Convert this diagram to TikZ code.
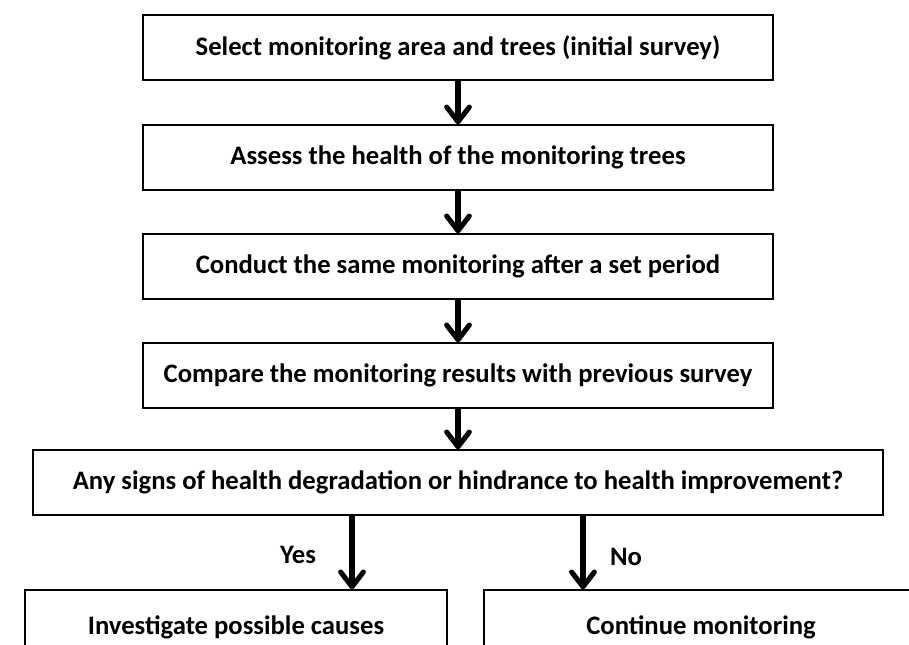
\documentclass[tikz,border=0pt]{standalone}
\usepackage{fontspec}
\setmainfont{Carlito}
\usetikzlibrary{arrows.meta}

\begin{document}
\begin{tikzpicture}[x=0.75pt,y=0.75pt,yscale=-1,xscale=1,
  stepbox/.style={draw,line width=1.1pt,inner sep=0pt,align=center,
    font=\fontsize{20}{24}\selectfont\bfseries,minimum height=48.75pt},
  lbl/.style={inner sep=0.75pt,font=\fontsize{20}{24}\selectfont\bfseries},
  flow/.style={line width=3.8pt,-{Straight Barb[length=11pt,width=17pt,round]}}]
\useasboundingbox (0,0) rectangle (909,645);
\clip (0,0) rectangle (909,645);

% Main column
\node [stepbox,minimum width=472.5pt] (select) at (458,47.5) {Select monitoring area and trees (initial survey)};
\node [stepbox,minimum width=472.5pt] (assess) at (458,157.5) {Assess the health of the monitoring trees};
\node [stepbox,minimum width=472.5pt] (repeat) at (458,266.5) {Conduct the same monitoring after a set period};
\node [stepbox,minimum width=472.5pt] (compare) at (458,375.5) {Compare the monitoring results with previous survey};
\node [stepbox,minimum width=637.5pt] (signs) at (458,482.5) {Any signs of health degradation or hindrance to health improvement?};

% Outcomes
\node [stepbox,minimum width=316.5pt,minimum height=56.25pt] (investigate) at (236,627.5) {Investigate possible causes};
\node [stepbox,minimum width=325.5pt,minimum height=56.25pt] (continue) at (701,627.5) {Continue monitoring};

% Branch labels
\node [lbl] (yes) at (298,555) {Yes};
\node [lbl] (no) at (626,557) {No};
\coordinate (yesx) at (352,0);
\coordinate (nox) at (583,0);

% Arrows
\draw [flow] (select) -- (assess);
\draw [flow] (assess) -- (repeat);
\draw [flow] (repeat) -- (compare);
\draw [flow] (compare) -- (signs);
\draw [flow] (signs.south -| yesx) -- (investigate.north -| yesx);
\draw [flow] (signs.south -| nox) -- (continue.north -| nox);

\end{tikzpicture}
\end{document}
